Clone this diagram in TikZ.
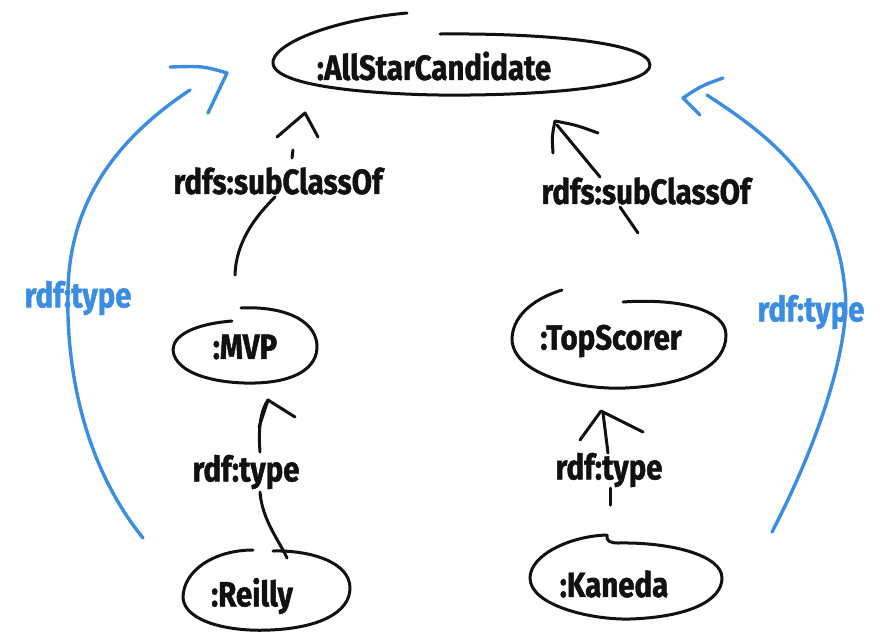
\documentclass[tikz,border=0pt]{standalone}
\usepackage{fontspec}
\setmainfont{Fira Sans}[FakeStretch=0.84, BoldFeatures={FakeBold=1.3}]
\definecolor{inkblue}{HTML}{3A8DE3}
\definecolor{ink}{HTML}{111111}
\tikzset{
  pen/.style={draw=ink, line width=3pt, line cap=round, line join=round},
  bluepen/.style={draw=inkblue, line width=3.4pt, line cap=round, line join=round},
  cls/.style={text=ink, font=\fontsize{35}{35}\selectfont\bfseries, inner sep=0pt},
  lbl/.style={text=ink, font=\fontsize{35}{35}\selectfont\bfseries, inner sep=0pt},
  bluelbl/.style={text=inkblue, font=\fontsize{35}{35}\selectfont\bfseries, inner sep=0pt},
}
\begin{document}
\begin{tikzpicture}[x=1pt,y=-1pt]
\useasboundingbox (0,0) rectangle (878,638);

% class and resource names
\node[cls] (asc) at (434,66) {:AllStarCandidate};
\node[cls] (mvp) at (245,347) {:MVP};
\node[cls] (top) at (611,341) {:TopScorer};
\node[cls] (rei) at (252,596) {:Reilly};
\node[cls] (kan) at (614,584) {:Kaneda};

% property labels
\node[lbl] (sc1) at (278,181) {rdfs:subClassOf};
\node[lbl] (sc2) at (646,191) {rdfs:subClassOf};
\node[lbl] (ty1) at (246,472) {rdf:type};
\node[lbl] (ty2) at (609,470) {rdf:type};
\node[bluelbl] (ty3) at (78,298) {rdf:type};
\node[bluelbl] (ty4) at (811,312) {rdf:type};

% hand-drawn outlines round the names
\draw[pen] (407,13) .. controls (330,20) and (270,45) .. (273,64)
  .. controls (278,92) and (420,96) .. (470,95)
  .. controls (560,94) and (650,85) .. (650,65)
  .. controls (650,42) and (540,33) .. (440,34);
\draw[pen] (232,321) .. controls (195,324) and (173,335) .. (173,350)
  .. controls (175,375) and (220,384) .. (255,383)
  .. controls (295,382) and (318,368) .. (317,345)
  .. controls (315,318) and (280,306) .. (241,308);
\draw[pen] (562,290) .. controls (530,300) and (512,318) .. (512,340)
  .. controls (514,375) and (580,390) .. (625,388)
  .. controls (690,385) and (726,365) .. (726,335)
  .. controls (726,310) and (680,298) .. (623,302);
\draw[pen] (253,550) .. controls (215,550) and (183,570) .. (183,598)
  .. controls (185,622) and (230,632) .. (270,630)
  .. controls (320,628) and (350,612) .. (350,588)
  .. controls (350,562) and (310,550) .. (273,551);
\draw[pen] (618,543) .. controls (610,543) and (606,541) .. (607,535)
  .. controls (570,536) and (530,555) .. (530,578)
  .. controls (530,605) and (590,620) .. (630,619)
  .. controls (690,617) and (722,600) .. (722,578)
  .. controls (722,555) and (670,542) .. (618,543);

% rdfs:subClassOf, :MVP to :AllStarCandidate
\draw[pen] ([shift={(-10,-72)}]mvp.center) .. controls ([shift={(-9,-105)}]mvp.center) and ([shift={(10,-130)}]mvp.center) .. ([shift={(-3,16)}]sc1.center);
\draw[pen] ([shift={(15,-31)}]sc1.center) -- ([shift={(14,-23)}]sc1.center);
\draw[pen] ([shift={(-1,-44)}]sc1.center) -- ([shift={(27,-68)}]sc1.center) -- ([shift={(40,-44)}]sc1.center);

% rdfs:subClassOf, :TopScorer to :AllStarCandidate
\draw[pen] ([shift={(-8,42)}]sc2.center) -- ([shift={(-26,16)}]sc2.center);
\draw[pen] ([shift={(-46,-14)}]sc2.center) -- ([shift={(-89,-66)}]sc2.center);
\draw[pen] ([shift={(-93,-38)}]sc2.center) .. controls ([shift={(-94,-55)}]sc2.center) .. ([shift={(-91,-70)}]sc2.center)
  .. controls ([shift={(-70,-66)}]sc2.center) .. ([shift={(-48,-58)}]sc2.center);

% rdf:type, :Reilly to :MVP
\draw[pen] ([shift={(14,-20)}]ty1.center) .. controls ([shift={(12,-45)}]ty1.center) and ([shift={(15,-62)}]ty1.center) .. ([shift={(22,-72)}]ty1.center);
\draw[pen] ([shift={(13,-45)}]ty1.center) -- ([shift={(22,-72)}]ty1.center) -- ([shift={(49,-55)}]ty1.center);
\draw[pen] ([shift={(14,20)}]ty1.center) .. controls ([shift={(16,48)}]ty1.center) and ([shift={(34,70)}]ty1.center) .. ([shift={(41,86)}]ty1.center);

% rdf:type, :Kaneda to :TopScorer
\draw[pen] ([shift={(-1,-17)}]ty2.center) -- ([shift={(-6,-57)}]ty2.center);
\draw[pen] ([shift={(-29,-30)}]ty2.center) -- ([shift={(-8,-59)}]ty2.center) -- ([shift={(34,-38)}]ty2.center);
\draw[pen] ([shift={(1,18)}]ty2.center) -- ([shift={(1,35)}]ty2.center);

% rdf:type, :Reilly to :AllStarCandidate
\draw[bluepen] ([shift={(65,240)}]ty3.center) .. controls ([shift={(2,162)}]ty3.center) and ([shift={(-12,62)}]ty3.center) .. ([shift={(-10,-8)}]ty3.center)
  .. controls ([shift={(-8,-108)}]ty3.center) and ([shift={(52,-168)}]ty3.center) .. ([shift={(112,-208)}]ty3.center);
\draw[bluepen] ([shift={(92,-231)}]ty3.center) .. controls ([shift={(125,-232)}]ty3.center) .. ([shift={(149,-225)}]ty3.center)
  .. controls ([shift={(140,-205)}]ty3.center) .. ([shift={(130,-185)}]ty3.center);

% rdf:type, :Kaneda to :AllStarCandidate
\draw[bluepen] ([shift={(-39,220)}]ty4.center) .. controls ([shift={(19,108)}]ty4.center) and ([shift={(39,18)}]ty4.center) .. ([shift={(34,-22)}]ty4.center)
  .. controls ([shift={(24,-132)}]ty4.center) and ([shift={(-51,-182)}]ty4.center) .. ([shift={(-104,-217)}]ty4.center);
\draw[bluepen] ([shift={(-88,-234)}]ty4.center) .. controls ([shift={(-110,-226)}]ty4.center) .. ([shift={(-128,-214)}]ty4.center)
  .. controls ([shift={(-120,-205)}]ty4.center) .. ([shift={(-111,-197)}]ty4.center);
\end{tikzpicture}
\end{document}
